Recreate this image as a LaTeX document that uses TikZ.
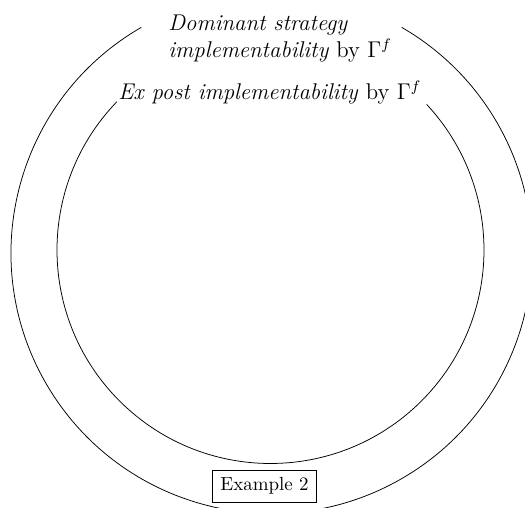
\documentclass[tikz,border=0pt]{standalone}
\begin{document}
\begin{tikzpicture}[x=0.527pt,y=0.527pt,
  lbl/.style={inner sep=0pt,font=\large},
  exbox/.style={draw,inner sep=4pt}]
\useasboundingbox (0,0) rectangle (525,508);
\coordinate (oc) at (271.5,255);
\coordinate (ic) at (270.5,258);
% outer set: dominant strategy implementability
\draw ([shift={(120:260.5)}]oc) arc[start angle=120,end angle=420,radius=260.5];
% inner set: ex post implementability
\draw ([shift={(136:213.5)}]ic) arc[start angle=136,end angle=403,radius=213.5];
\node[lbl,align=left,anchor=north west] (ds) at (168,493)
  {\textit{Dominant strategy}\\\textit{implementability} by $\Gamma^f$};
\node[lbl,anchor=base west] (ep) at (118,408)
  {\textit{Ex post implementability} by $\Gamma^f$};
\node[exbox] (ex) at (264.5,22) {Example 2};
\end{tikzpicture}
\end{document}
